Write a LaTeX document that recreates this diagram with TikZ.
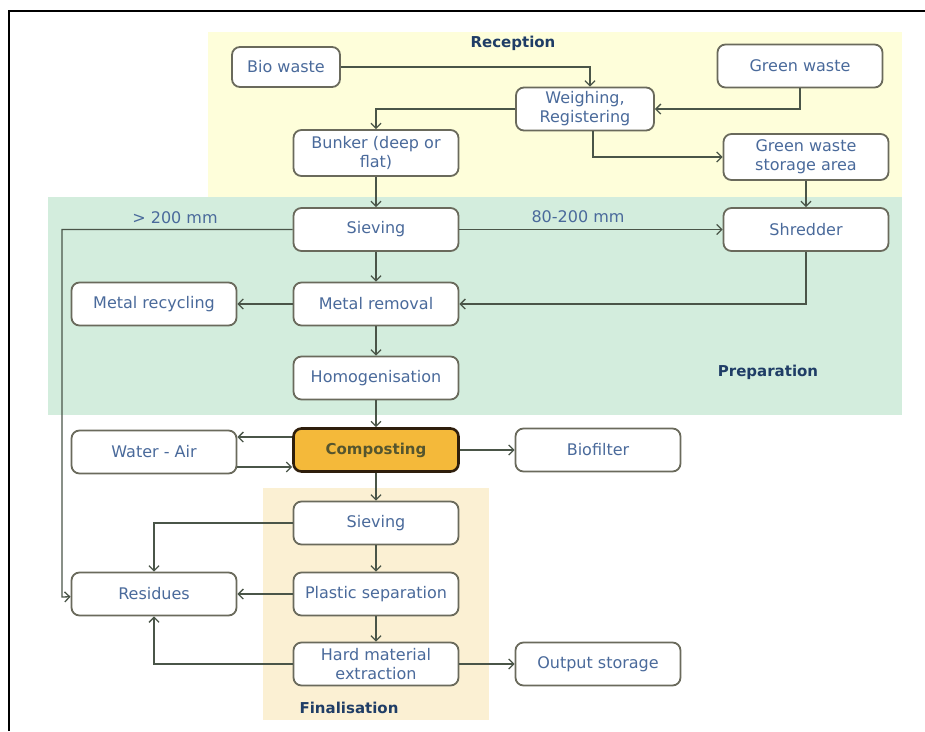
\documentclass[tikz,border=0pt]{standalone}
\usepackage{fontspec}
\setmainfont{DejaVu Sans}
\usetikzlibrary{arrows.meta}
\definecolor{txtblue}{HTML}{4A6A9B}
\definecolor{headblue}{HTML}{1F3D66}
\definecolor{boxgrey}{HTML}{6A6A5C}
\definecolor{linegrey}{HTML}{4A5548}
\definecolor{recyellow}{HTML}{FEFEDA}
\definecolor{prepgreen}{HTML}{D3EDDD}
\definecolor{finbeige}{HTML}{FBF0D3}
\definecolor{compfill}{HTML}{F4B93A}
\definecolor{compedge}{HTML}{2E1E0C}
\definecolor{comptext}{HTML}{55552E}
\begin{document}
\begin{tikzpicture}[x=1pt, y=-1pt, line width=1.3pt, color=linegrey, >={Straight Barb[length=5pt,width=10pt]},
  main/.style = {draw=boxgrey, line width=1.8pt, fill=white, rounded corners=8pt, minimum width=165pt, minimum height=43pt, align=center, text=txtblue, inner sep=2pt, font=\fontsize{16}{19}\selectfont},
  comp/.style = {main, draw=compedge, line width=2.6pt, fill=compfill, text=comptext, font=\fontsize{15}{18}\selectfont\bfseries},
  head/.style = {text=headblue, font=\fontsize{15}{18}\selectfont\bfseries},
  lbl/.style = {text=txtblue, font=\fontsize{16}{19}\selectfont}]
    \useasboundingbox (0,0) rectangle (925,731);
    \fill[recyellow] (208,32) rectangle (902,197);
    \fill[prepgreen] (48,197) rectangle (902,415);
    \fill[finbeige] (263,488) rectangle (489,720);
    \draw[black, line width=2pt] (9,731) -- (9,11) -- (925,11);

    \node[main, minimum width=108pt, minimum height=40pt] (1) at (286,67) {Bio waste};
    \node[main] (2) at (800,66) {Green waste};
    \node[main, minimum width=138pt] (3) at (585,109) {Weighing,\\Registering};
    \node[main, minimum height=46pt] (4) at (376,153) {Bunker (deep or\\flat)};
    \node[main, minimum height=46pt] (5) at (806,157) {Green waste\\storage area};
    \node[main] (6) at (376,229.5) {Sieving};
    \node[main] (7) at (806,229.5) {Shredder};
    \node[main] (8) at (376,304) {Metal removal};
    \node[main] (9) at (154,304) {Metal recycling};
    \node[main] (10) at (376,378) {Homogenisation};
    \node[comp] (11) at (376,450) {Composting};
    \node[main] (12) at (154,452) {Water - Air};
    \node[main] (13) at (598,450) {Biofilter};
    \node[main] (14) at (376,523) {Sieving};
    \node[main] (15) at (376,594) {Plastic separation};
    \node[main] (16) at (376,664) {Hard material\\extraction};
    \node[main] (17) at (598,664) {Output storage};
    \node[main] (18) at (154,594) {Residues};

    \node[head] (r) at (513,43) {Reception};
    \node[head] (p) at (768,372) {Preparation};
    \node[head] (f) at (349,708) {Finalisation};
    \node[lbl] (l1) at (175,218) {> 200 mm};
    \node[lbl] (l2) at (578,217) {80-200 mm};
    \coordinate (c1) at (62,597);

    \draw[->] (1) -| ([xshift=5pt]3.north);
    \draw[->] (2) |- (3);
    \draw[->] (3) -| (4);
    \draw[->] ([xshift=8pt]3.south) |- (5);
    \draw[->] (4) -- (6);
    \draw[->] (5) -- (7);
    \draw[->] (6) -| (c1) -- (18);
    \draw[->] (6) -- (7);
    \draw[->] (6) -- (8);
    \draw[->] (7) |- (8);
    \draw[->] (8) -- (9);
    \draw[->] (8) -- (10);
    \draw[->] (10) -- (11);
    \draw[->] ([yshift=13pt]11.west) -- ([yshift=15pt]12.east);
    \draw[->] ([yshift=-15pt]12.east) -- ([yshift=-17pt]11.west);
    \draw[->] (11) -- (13);
    \draw[->] (11) -- (14);
    \draw[->] (14) -| (18);
    \draw[->] (14) -- (15);
    \draw[->] (15) -- (18);
    \draw[->] (15) -- (16);
    \draw[->] (16) -| (18);
    \draw[->] (16) -- (17);
\end{tikzpicture}
\end{document}
